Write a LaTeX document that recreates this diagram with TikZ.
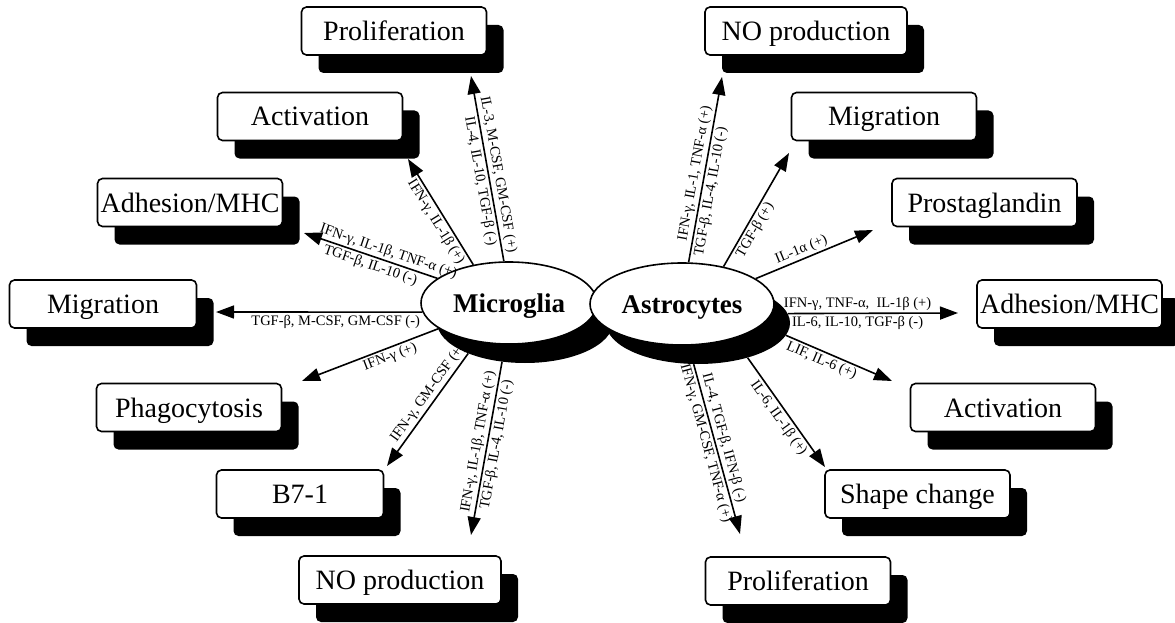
\documentclass[tikz,border=0pt]{standalone}
\usepackage{fontspec}
\setmainfont{Liberation Serif}
\usetikzlibrary{arrows.meta,shadows,shapes.geometric}
\tikzset{
  box/.style={draw, line width=1.6pt, rounded corners=5pt, fill=white,
    minimum width=185pt, minimum height=48pt, inner sep=0pt,
    text height=19pt, text depth=0pt,
    font=\fontsize{28}{30}\selectfont,
    drop shadow={shadow xshift=17pt, shadow yshift=-18pt, fill=black, opacity=1}},
  cell/.style={ellipse, draw, line width=1.6pt, fill=white,
    minimum width=176pt, minimum height=82pt, inner sep=0pt,
    text height=18pt, text depth=0pt,
    font=\fontsize{27}{30}\selectfont\bfseries},
  cellshadow/.style={ellipse, fill=black, minimum width=176pt, minimum height=82pt, inner sep=0pt},
  arr/.style={line width=1.6pt, -{Triangle[length=18pt,width=13pt]}},
  lbl/.style={font=\fontsize{14.5}{16}\selectfont, inner sep=2pt, sloped}
}
\begin{document}
\begin{tikzpicture}[x=1pt,y=-1pt]
\useasboundingbox (0,0) rectangle (1175,623);
% boxes
\node[box] (mprol) at (394,31) {Proliferation};
\node[box] (mact) at (310,116.5) {Activation};
\node[box] (madh) at (190,202.5) {Adhesion/MHC};
\node[box, minimum width=187pt] (mmig) at (103,304) {Migration};
\node[box] (mphag) at (189,407.5) {Phagocytosis};
\node[box, minimum width=167pt] (mb7) at (300,494) {B7-1};
\node[box, minimum width=202pt] (mno) at (400,580) {NO production};
\node[box, minimum width=202pt] (ano) at (806,31) {NO production};
\node[box] (amig) at (884,116.5) {Migration};
\node[box] (aprost) at (984.5,202.5) {Prostaglandin};
\node[box] (aadh) at (1069.5,304) {Adhesion/MHC};
\node[box] (aact) at (1003,407.5) {Activation};
\node[box] (ashape) at (917.5,494) {Shape change};
\node[box] (aprol) at (798,581) {Proliferation};
% cells
\node[cellshadow] (mics) at (525,322) {};
\node[cell] (mic) at (509,303) {Microglia};
\node[cellshadow, minimum width=184pt] (asts) at (698,323) {};
\node[cell, minimum width=184pt] (ast) at (682,304) {Astrocytes};
% arrow tips
\coordinate (t1) at (471,76);
\coordinate (t2) at (408,159);
\coordinate (t3) at (304,233);
\coordinate (t4) at (216,312);
\coordinate (t5) at (302,381);
\coordinate (t6) at (387,466);
\coordinate (t7) at (471,535);
\coordinate (t8) at (722,77);
\coordinate (t9) at (789,153);
\coordinate (t10) at (873,230);
\coordinate (t11) at (958,313);
\coordinate (t12) at (892,381);
\coordinate (t13) at (825,467);
\coordinate (t14) at (740,534);
% microglia arrows
\draw[arr] (mic.97) -- (t1)
  node[lbl,pos=0.46,above]{IL-3, M-CSF, GM-CSF (+)}
  node[lbl,pos=0.44,below]{IL-4, IL-10, TGF-β (-)};
\draw[arr] (mic.133) -- (t2)
  node[lbl,pos=0.45,below]{IFN-γ, IL-1β (+)};
\draw[arr] (mic.161) -- (t3)
  node[lbl,pos=0.39,above]{IFN-γ, IL-1β, TNF-α (+)}
  node[lbl,pos=0.48,below]{TGF-β, IL-10 (-)};
\draw[arr] (mic.186) -- (t4)
  node[lbl,pos=0.42,below]{TGF-β, M-CSF, GM-CSF (-)};
\draw[arr] (mic.200) -- (t5)
  node[lbl,pos=0.38,below]{IFN-γ (+)};
\draw[arr] (mics.209) -- (t6)
  node[lbl,pos=0.40,above]{IFN-γ, GM-CSF (+)};
\draw[arr] (mics.240) -- (t7)
  node[lbl,pos=0.47,above]{IFN-γ, IL-1β, TNF-α (+)}
  node[lbl,pos=0.47,below]{TGF-β, IL-4, IL-10 (-)};
% astrocyte arrows
\draw[arr] (ast.81) -- (t8)
  node[lbl,pos=0.47,above]{IFN-γ, IL-1, TNF-α (+)}
  node[lbl,pos=0.39,below]{TGF-β, IL-4, IL-10 (-)};
\draw[arr] (ast.42) -- (t9)
  node[lbl,pos=0.36,below]{TGF-β (+)};
\draw[arr] (ast.19) -- (t10)
  node[lbl,pos=0.42,above]{IL-1α (+)};
\draw[arr] (asts.6) -- (t11)
  node[lbl,pos=0.41,above]{IFN-γ, TNF-α,\ \ IL-1β (+)}
  node[lbl,pos=0.41,below]{IL-6, IL-10, TGF-β (-)};
\draw[arr] (asts.-8.5) -- (t12)
  node[lbl,pos=0.37,below]{LIF, IL-6 (+)};
\draw[arr] (asts.-35) -- (t13)
  node[lbl,pos=0.5,below]{IL-6, IL-1β (+)};
\draw[arr] (asts.264) -- (t14)
  node[lbl,pos=0.45,above]{IL-4, TGF-β, IFN-β (-)}
  node[lbl,pos=0.45,below]{IFN-γ, GM-CSF, TNF-α (+)};
\end{tikzpicture}
\end{document}
